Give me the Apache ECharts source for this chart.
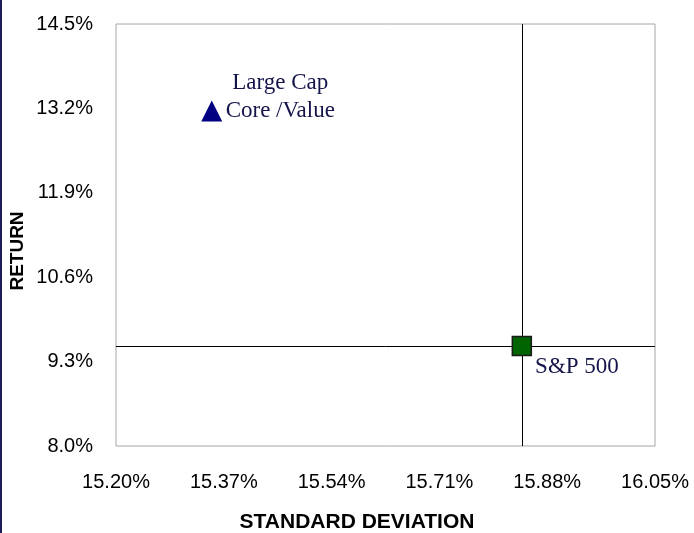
<!DOCTYPE html>
<html>
<head>
<meta charset="utf-8">
<script src="https://cdn.jsdelivr.net/npm/echarts@6/dist/echarts.min.js"></script>
<style>
  html, body { margin: 0; padding: 0; background: #fff; }
  #chart { width: 694px; height: 533px; }
</style>
</head>
<body>
<div id="chart"></div>
<script>
// values (percent)
const names = ["Large Cap\nCore /Value", "S&P 500"];
const stdDev = [15.351, 15.840];
const returns = [13.16, 9.54];

// axis ranges / ticks
const xMin = 15.20, xMax = 16.05, xStep = 0.17;
const yMin = 8.0, yMax = 14.5, yStep = 1.3;

// axes are drawn as offsets from min so ticks start at min
const pt = (i) => [stdDev[i] - xMin, returns[i] - yMin];

const chart = echarts.init(document.getElementById("chart"));
const serif = "'Liberation Serif', 'Times New Roman', serif";
const sans = "'Liberation Sans', Arial, sans-serif";

chart.setOption({
  animation: false,
  grid: {
    left: 116, top: 24, right: 39, bottom: 87,
    show: true, borderColor: "#a6a6a6", borderWidth: 1
  },
  xAxis: {
    type: "value",
    min: 0, max: xMax - xMin, interval: xStep,
    axisLine: { show: false },
    axisTick: { show: false },
    splitLine: { show: false },
    axisLabel: {
      margin: 26,
      color: "#000", fontFamily: sans, fontSize: 20,
      formatter: (v) => (v + xMin).toFixed(2) + "%"
    }
  },
  yAxis: {
    type: "value",
    min: 0, max: yMax - yMin, interval: yStep,
    axisLine: { show: false },
    axisTick: { show: false },
    splitLine: { show: false },
    axisLabel: {
      margin: 23,
      color: "#000", fontFamily: sans, fontSize: 20,
      formatter: (v) => (v + yMin).toFixed(1) + "%"
    }
  },
  graphic: [
    { type: "rect", left: 0, top: 0, shape: { width: 2, height: 533 }, style: { fill: "#1c1c5a" } },
    {
      type: "text", x: 357, y: 522,
      style: {
        text: "STANDARD DEVIATION", font: "bold 21px " + sans, fill: "#000",
        align: "center", verticalAlign: "middle"
      }
    },
    {
      type: "text", x: 18, y: 251, rotation: Math.PI / 2,
      style: {
        text: "RETURN", font: "bold 19px " + sans, fill: "#000",
        align: "center", verticalAlign: "middle"
      }
    }
  ],
  series: [
    {
      type: "scatter",
      data: [pt(0)],
      symbol: "triangle",
      symbolSize: 21,
      itemStyle: { color: "#000080", opacity: 1 },
      label: {
        show: true, position: "right",
        formatter: names[0],
        align: "center", offset: [53, -14],
        lineHeight: 28,
        color: "#14144a", fontFamily: serif, fontSize: 23
      }
    },
    {
      type: "scatter",
      data: [pt(1)],
      symbol: "rect",
      symbolSize: 19,
      z: 5,
      itemStyle: { color: "#006400", borderColor: "#1a1a1a", borderWidth: 1.5, opacity: 1 },
      label: {
        show: true, position: "right",
        formatter: names[1],
        offset: [-2, 21],
        color: "#14144a", fontFamily: serif, fontSize: 23
      },
      markLine: {
        silent: true,
        symbol: ["none", "none"],
        label: { show: false },
        lineStyle: { color: "#000", width: 1, type: "solid", opacity: 1 },
        data: [
          { xAxis: stdDev[1] - xMin },
          { yAxis: returns[1] - yMin }
        ]
      }
    }
  ]
});
</script>
</body>
</html>
